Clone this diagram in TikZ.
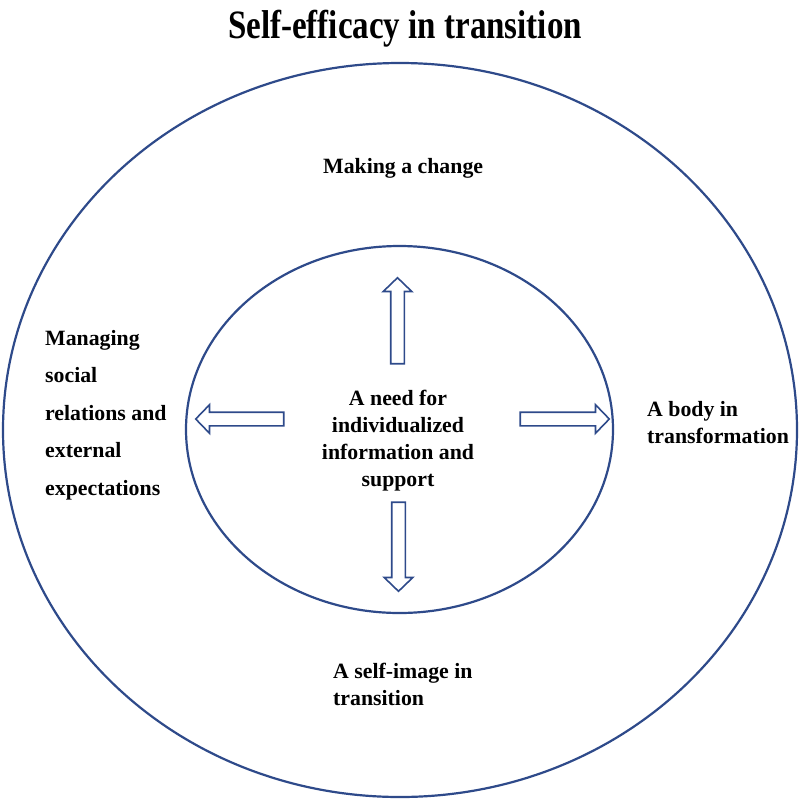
\documentclass[tikz,border=0pt]{standalone}
\usepackage{fontspec}
\setmainfont{Liberation Serif}
\usepackage{tikz}
\usetikzlibrary{shapes, arrows, positioning}

\definecolor{ringblue}{HTML}{2E4A8A}

\begin{document}
\begin{tikzpicture}[x=1pt, y=1pt,
  ring/.style={ellipse, draw=ringblue, line width=2.2pt},
  lbl/.style={font=\fontsize{21.8}{27}\bfseries\selectfont, align=left, inner sep=0pt},
  blockarrow/.style={single arrow, draw=ringblue, line width=1.6pt, inner sep=6pt,
    minimum width=28pt, single arrow head extend=7.5pt, single arrow tip angle=92}]
\useasboundingbox (0,0) rectangle (800,-801);
\node[lbl, font=\fontsize{33}{40}\bfseries\selectfont] (title) at (405,-29) {\scalebox{1}[1.22]{Self-efficacy in transition}};
\node[ring, minimum width=794pt, minimum height=734pt] (outer) at (400,-430) {};
\node[ring, minimum width=427pt, minimum height=367pt] (inner) at (399.5,-429.5) {};
\node[lbl, align=center] (need) at (398,-441) {A need for\\individualized\\information and\\support};
\node[blockarrow, minimum height=86pt, rotate=90] (up) at (397.5,-324) {};
\node[blockarrow, minimum height=89pt, rotate=-90] (down) at (398.5,-543.5) {};
\node[blockarrow, minimum height=88pt, rotate=180] (left) at (243,-419) {};
\node[blockarrow, minimum height=89pt] (right) at (561.5,-419) {};
\node[lbl, anchor=base west] (change) at (323,-173) {Making a change};
\node[lbl, anchor=base west] (image) at (333,-705) {A self-image in\\transition};
\node[lbl, anchor=base west] (body) at (647,-443) {A body in\\transformation};
\node[lbl, font=\fontsize{21.8}{37.5}\bfseries\selectfont, anchor=base west] (social) at (45,-495) {Managing\\social\\relations and\\external\\expectations};
\end{tikzpicture}
\end{document}
